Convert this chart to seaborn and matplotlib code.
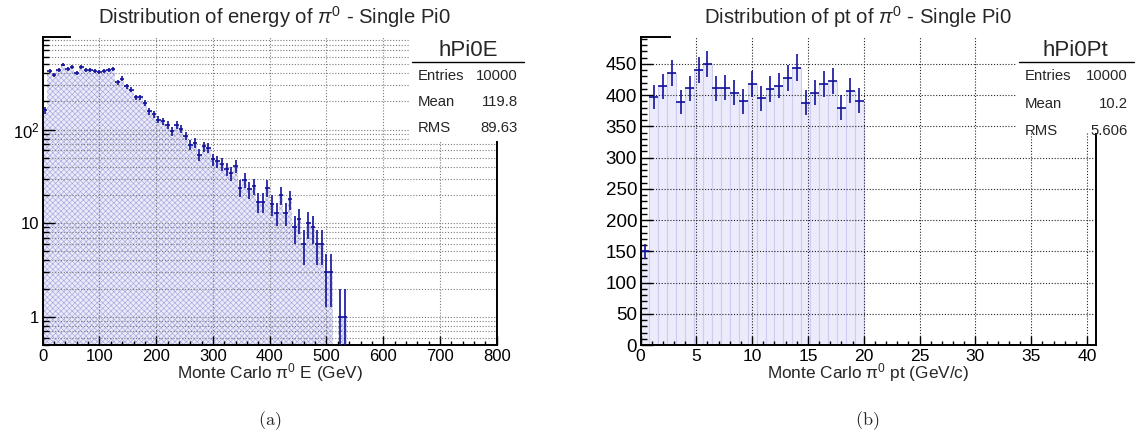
import numpy as np
import pandas as pd
import matplotlib
matplotlib.use("Agg")
import matplotlib.pyplot as plt
from matplotlib.patches import Rectangle
from matplotlib.lines import Line2D
from matplotlib.ticker import MultipleLocator, FixedLocator, LogLocator, NullFormatter, FuncFormatter
import seaborn as sns

# pi0 energy spectrum, 8 GeV bins starting at 0 GeV
energy_bin_width = 8.0
energy_counts = [161, 421, 387, 431, 495, 446, 468, 404, 463, 438, 438, 421, 410, 421, 438, 446,
                 320, 351, 290, 268, 221, 221, 193, 157, 145, 128, 123, 113, 96, 113, 102, 86,
                 69, 72, 54, 66, 64, 48, 46, 43, 38, 34, 41, 24, 29, 23, 25, 17, 17, 24, 16, 13,
                 20, 13, 18, 9, 11, 6, 10, 9, 6, 6, 3, 3, 0, 1, 1]
energy_stats = ["hPi0E", "10000", "119.8", "89.63"]

# pi0 transverse momentum, 0.8 GeV/c bins starting at 0
pt_bin_width = 0.8
pt_counts = [150, 397, 414, 436, 389, 411, 440, 450, 411, 412, 404, 390, 418, 395, 410,
             415, 428, 444, 388, 404, 418, 423, 380, 407, 391]
pt_stats = ["hPi0Pt", "10000", "10.2", "5.606"]

stat_names = ["Entries", "Mean", "RMS"]

sns.set_style("ticks")
plt.rcParams["font.family"] = ["Liberation Sans", "DejaVu Sans"]
plt.rcParams["mathtext.fontset"] = "custom"
plt.rcParams["mathtext.rm"] = "Liberation Sans"
plt.rcParams["mathtext.it"] = "Liberation Sans:italic"
plt.rcParams["mathtext.bf"] = "Liberation Sans:bold"
plt.rcParams["hatch.linewidth"] = 0.45

W, H = 1139, 447
ERR = "#12129c"


def fx(px):
    return px / W


def fy(py):
    return 1 - py / H


def draw_hist(ax, counts, width, **fill_kws):
    counts = np.asarray(counts, dtype=float)
    edges = np.arange(len(counts) + 1) * width
    centers = edges[:-1] + width / 2
    df = pd.DataFrame({"x": centers, "n": counts})
    sns.histplot(data=df, x="x", weights="n", bins=[float(e) for e in edges],
                 ax=ax, **fill_kws)
    shown = counts > 0
    ax.errorbar(centers[shown], counts[shown], xerr=width / 2,
                yerr=np.sqrt(counts[shown]), fmt="none", ecolor=ERR,
                elinewidth=1.2, capsize=0, zorder=4)


def style_frame(ax, top_len, xsize, ysize):
    for side in ["left", "bottom", "top", "right"]:
        ax.spines[side].set_linewidth(1.4)
        ax.spines[side].set_color("black")
    ax.spines["top"].set_bounds(0, top_len)
    ax.set_axisbelow("line")
    ax.tick_params(axis="both", which="both", direction="in", top=False, right=False,
                   colors="black", width=1.0)
    ax.tick_params(axis="x", which="major", length=6.5, pad=3.0, labelsize=xsize)
    ax.tick_params(axis="x", which="minor", length=3.2)
    ax.tick_params(axis="y", which="major", length=8.5, pad=2.5, labelsize=ysize)
    ax.tick_params(axis="y", which="minor", length=4.3)
    ax.set_xlabel("")
    ax.set_ylabel("")


def stats_box(x0, x1, y_bottom, line_y, title_x, rows_y, label_x, value_x, values):
    fig.add_artist(Rectangle((fx(x0), fy(y_bottom)), fx(x1) - fx(x0), fy(28) - fy(y_bottom),
                             transform=fig.transFigure, facecolor="white",
                             edgecolor="none", zorder=5))
    fig.add_artist(Line2D([fx(x0 + 2), fx(x1)], [fy(line_y)] * 2, color="black",
                          lw=1.0, transform=fig.transFigure, zorder=6))
    fig.text(fx(title_x), fy(56), values[0], ha="center", va="baseline",
             fontsize=16, zorder=7)
    for name, val, yy in zip(stat_names, values[1:], rows_y):
        fig.text(fx(label_x), fy(yy), name, ha="left", va="baseline", fontsize=10.7, zorder=7)
        fig.text(fx(value_x), fy(yy), val, ha="right", va="baseline", fontsize=10.7, zorder=7)


fig = plt.figure(figsize=(W / 100, H / 100), dpi=100)
ax1 = fig.add_axes([fx(42.7), fy(345), (496.7 - 42.7) / W, 308 / H])
ax2 = fig.add_axes([fx(640.5), fy(345), (1096 - 640.5) / W, 308 / H])

# energy panel, log scale
draw_hist(ax1, energy_counts, energy_bin_width, element="step", fill=True,
          facecolor="#eaeaf8", edgecolor="#a8a8e0", hatch="xxxxxx", linewidth=0)
ax1.set_yscale("log")
ax1.set_xlim(0, 800)
ax1.set_ylim(0.5, 975)
ax1.xaxis.set_major_locator(MultipleLocator(100))
ax1.xaxis.set_minor_locator(MultipleLocator(20))
ax1.yaxis.set_major_locator(FixedLocator([1, 10, 100]))
ax1.yaxis.set_major_formatter(FuncFormatter(
    lambda v, p: {1: "1", 10: "10", 100: r"$10^{2}$"}.get(int(round(v)), "")))
ax1.yaxis.set_minor_locator(LogLocator(base=10, subs=np.arange(2, 10)))
ax1.yaxis.set_minor_formatter(NullFormatter())
grid_kw = dict(linestyle=(0, (1, 1.6)), linewidth=0.8)
ax1.xaxis.grid(True, which="major", color="#7a7a7a", **grid_kw)
ax1.yaxis.grid(True, which="both", color="#7a7a7a", **grid_kw)
style_frame(ax1, 48, 12, 12)

# transverse momentum panel, linear scale
draw_hist(ax2, pt_counts, pt_bin_width, element="bars", fill=True,
          facecolor="#ebebfb", edgecolor="#cdcdf3", linewidth=0.8)
ax2.set_xlim(0, 40.8)
ax2.set_ylim(0, 493)
ax2.xaxis.set_major_locator(MultipleLocator(5))
ax2.xaxis.set_minor_locator(MultipleLocator(1))
ax2.yaxis.set_major_locator(MultipleLocator(50))
ax2.yaxis.set_minor_locator(MultipleLocator(10))
ax2.xaxis.grid(True, which="major", color="#222222", **grid_kw)
ax2.yaxis.grid(True, which="major", color="#222222", **grid_kw)
style_frame(ax2, 2.6, 12.6, 13.5)

# titles and axis captions
fig.text(fx(274), fy(17), r"Distribution of energy of $\pi^{0}$ - Single Pi0",
         ha="center", va="center", fontsize=14.6)
fig.text(fx(858), fy(17), r"Distribution of pt of $\pi^{0}$ - Single Pi0",
         ha="center", va="center", fontsize=14.6)
fig.text(fx(269.7), fy(378), r"Monte Carlo $\mathrm{\pi}^{0}$ E (GeV)",
         ha="center", va="baseline", fontsize=12.4)
fig.text(fx(868), fy(378), r"Monte Carlo $\mathrm{\pi}^{0}$ pt (GeV/c)",
         ha="center", va="baseline", fontsize=12.4)

stats_box(410, 524, 141, 61.7, 468, [80, 105.5, 132], 418, 518, energy_stats)
stats_box(1017, 1134, 133, 62.3, 1075, [80.5, 108, 135], 1025, 1128, pt_stats)

fig.text(fx(270), fy(421), r"$\mathrm{(a)}$", math_fontfamily="cm",
         ha="center", va="center", fontsize=13)
fig.text(fx(867), fy(421), r"$\mathrm{(b)}$", math_fontfamily="cm",
         ha="center", va="center", fontsize=13)

fig.savefig("out.png", dpi=100, facecolor="white")
